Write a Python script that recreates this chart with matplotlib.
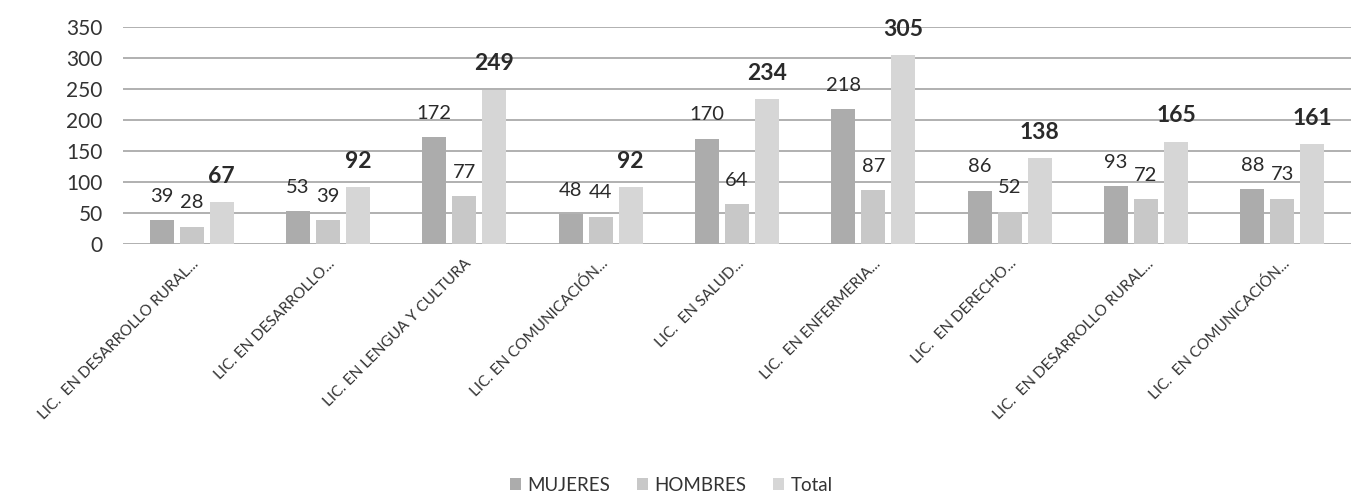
import matplotlib
matplotlib.use("Agg")
import matplotlib.pyplot as plt
import numpy as np

plt.rcParams['font.family'] = ['Lato', 'DejaVu Sans']

# Datos
carreras = ["LIC.  EN DESARROLLO RURAL...", "LIC. EN DESARROLLO...", "LIC. EN LENGUA Y CULTURA",
            "LIC. EN COMUNICACIÓN...", "LIC.  EN SALUD...", "LIC.  EN ENFERMERIA...",
            "LIC.  EN DERECHO...", "LIC.  EN DESARROLLO RURAL...", "LIC.  EN COMUNICACIÓN..."]
mujeres = [39, 53, 172, 48, 170, 218, 86, 93, 88]
hombres = [28, 39, 77, 44, 64, 87, 52, 72, 73]
total = [67, 92, 249, 92, 234, 305, 138, 165, 161]
series_names = ["MUJERES", "HOMBRES", "Total"]

fig = plt.figure(figsize=(13.56, 4.98), dpi=100)
ax = fig.add_axes([0.091, 0.51, 0.905, 0.436])

x = np.arange(len(carreras))
w = 0.175
off = 0.22
colores = ["#acacac", "#c8c8c8", "#d6d6d6"]

b1 = ax.bar(x - off, mujeres, w, color=colores[0], label=series_names[0], zorder=3)
b2 = ax.bar(x, hombres, w, color=colores[1], label=series_names[1], zorder=3)
b3 = ax.bar(x + off, total, w, color=colores[2], label=series_names[2], zorder=3)

# Etiquetas de datos
for barras, vals, bold in [(b1, mujeres, False), (b2, hombres, False), (b3, total, True)]:
    for b, v in zip(barras, vals):
        ax.annotate(str(v), (b.get_x() + b.get_width() / 2, v), xytext=(0, 11),
                    textcoords="offset points", ha="center", va="bottom",
                    fontsize=16.5 if bold else 14.5,
                    fontweight="bold" if bold else "normal", color="#2a2a2a", zorder=4)

ax.set_ylim(0, 350)
ax.set_yticks(range(0, 351, 50))
ax.set_xlim(-0.5, len(carreras) - 0.5)
ax.grid(axis="y", color="#b0b0b0", linewidth=1.4, zorder=0)
for s in ax.spines.values():
    s.set_visible(False)
ax.tick_params(axis="both", length=0, colors="#333333")
ax.tick_params(axis="y", labelsize=15, pad=15)
ax.set_xticks(x)
ax.set_xticklabels(carreras, rotation=45, ha="right", rotation_mode="anchor",
                   fontsize=11, color="#333333")
ax.tick_params(axis="x", pad=9)

fig.legend(loc="lower center", bbox_to_anchor=(0.495, -0.025), ncol=3, frameon=False,
           fontsize=13.5, handlelength=0.6, handleheight=0.6, columnspacing=1.4,
           handletextpad=0.35, labelcolor="#333333")

plt.savefig("out.png", dpi=100)
plt.close()
